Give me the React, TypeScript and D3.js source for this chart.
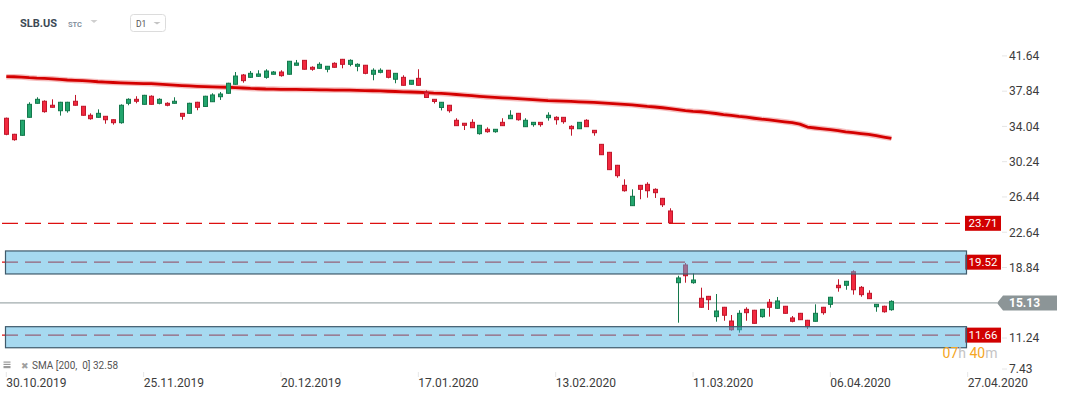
import React from "react";
import * as d3 from "d3";

const W = 1069;
const H = 399;

// OHLC data, one value per trading day starting 30.10.2019
const opens = [35.03,33.30,33.19,35.13,36.64,36.86,36.43,35.84,35.84,36.86,36.32,35.35,35.13,35.24,34.87,34.55,36.64,37.07,36.53,37.40,36.64,36.64,36.64,35.56,35.56,36.75,36.30,36.81,37.35,37.72,38.69,39.69,39.44,39.55,39.44,39.77,40.01,39.77,40.74,41.27,40.52,40.41,40.31,40.95,41.38,40.84,40.63,40.74,39.77,39.98,40.20,39.23,39.44,38.69,39.33,37.83,37.07,36.19,36.43,34.81,34.49,34.59,33.37,33.84,33.58,34.59,34.98,35.56,34.12,34.34,34.59,35.09,35.13,35.13,34.16,33.90,34.81,33.73,32.22,31.36,29.96,27.80,25.61,27.80,27.91,27.37,26.40,25.04,17.31,19.22,17.31,15.63,15.84,13.65,14.66,13.18,12.24,14.44,14.34,13.65,15.20,14.55,14.77,13.51,14.01,13.26,13.15,14.66,14.98,17.03,17.03,18.49,16.81,16.17,14.72,14.77,14.40];
const highs = [35.10,33.35,34.85,36.75,37.29,36.96,37.07,36.80,36.80,37.54,36.35,35.56,35.99,35.27,34.90,36.53,37.18,37.40,37.55,37.50,37.18,36.75,37.29,35.60,36.70,36.80,37.45,37.72,37.86,38.85,40.01,39.80,40.12,40.20,40.31,40.12,40.20,41.20,41.31,41.30,40.63,41.06,40.66,41.06,41.42,41.38,40.95,40.77,40.41,40.41,40.23,39.90,39.66,39.15,40.31,38.04,37.10,36.78,36.46,35.03,34.52,34.92,34.30,34.05,33.87,35.03,35.89,35.60,35.03,34.62,34.62,35.67,35.24,35.16,34.27,34.62,34.92,33.76,32.25,31.40,30.00,28.45,27.37,27.84,28.13,27.48,26.44,25.33,18.06,19.43,18.32,16.77,15.88,16.09,14.70,13.83,14.34,14.66,14.38,14.48,15.55,15.77,14.80,13.72,14.05,13.30,14.98,14.70,15.78,17.68,17.50,18.65,16.95,16.49,15.00,14.83,15.41];
const lows = [33.20,32.61,33.15,35.10,36.60,35.63,36.18,35.31,35.63,36.40,35.30,34.87,35.10,34.44,34.34,34.44,36.43,36.64,36.50,36.50,36.53,36.32,36.60,34.87,35.50,35.89,36.25,36.78,37.00,37.68,38.65,38.86,39.40,39.50,39.29,39.74,39.51,39.74,40.70,40.28,40.15,40.38,39.98,40.48,40.41,40.63,40.09,39.77,39.12,39.87,39.33,38.80,38.55,38.66,38.55,37.24,36.62,35.87,35.63,34.20,33.76,33.98,33.26,33.47,33.47,34.20,34.95,34.77,34.09,34.12,34.12,34.77,34.34,34.44,33.15,33.87,34.09,33.15,31.07,29.45,28.62,27.12,25.58,26.30,26.47,26.44,25.47,23.72,13.00,17.31,17.20,14.62,14.37,13.11,13.21,12.14,11.92,13.21,12.90,13.54,13.65,14.50,13.98,13.04,13.29,12.32,13.12,13.86,14.62,16.34,16.55,16.02,15.80,15.56,14.18,14.08,14.29];
const closes = [33.30,32.72,34.81,36.53,37.07,35.74,36.21,36.75,36.75,36.43,35.35,34.98,35.56,34.87,34.55,36.43,37.07,36.86,37.50,36.53,37.07,36.43,36.86,35.24,36.64,36.21,37.40,37.54,37.64,38.80,39.58,39.08,39.87,39.80,40.12,40.01,39.62,41.17,40.98,40.31,40.31,40.84,40.63,40.52,40.84,41.27,40.84,39.87,40.20,40.20,39.44,39.87,38.58,39.12,38.58,37.27,36.84,36.75,35.84,34.23,34.27,34.01,34.27,33.58,33.84,34.23,35.35,34.87,34.81,34.59,34.34,35.35,34.87,34.66,33.90,34.59,34.12,33.47,31.10,29.49,28.84,27.22,26.62,27.37,27.22,27.01,25.71,23.77,17.82,18.06,17.60,14.66,15.48,14.26,13.80,12.24,14.01,14.08,12.93,14.44,14.66,15.34,14.01,13.15,13.32,12.57,14.01,14.08,15.74,16.77,17.46,16.55,16.02,15.59,14.98,14.18,15.30];

// SMA(200) values read per candle
const sma200 = [39.51,39.50,39.47,39.40,39.35,39.32,39.28,39.21,39.15,39.11,39.08,39.02,38.96,38.92,38.88,38.85,38.82,38.79,38.77,38.75,38.70,38.65,38.60,38.55,38.51,38.47,38.44,38.41,38.39,38.37,38.34,38.29,38.24,38.21,38.18,38.17,38.15,38.14,38.13,38.12,38.11,38.09,38.08,38.07,38.06,38.05,38.03,38.01,37.99,37.97,37.94,37.91,37.88,37.86,37.83,37.80,37.74,37.70,37.65,37.59,37.53,37.46,37.39,37.33,37.28,37.23,37.19,37.14,37.09,37.04,36.98,36.93,36.90,36.87,36.84,36.80,36.77,36.73,36.68,36.63,36.57,36.52,36.47,36.38,36.30,36.24,36.16,36.06,35.95,35.85,35.78,35.73,35.64,35.54,35.43,35.34,35.23,35.14,35.03,34.93,34.85,34.75,34.65,34.55,34.40,34.08,33.98,33.89,33.80,33.70,33.57,33.48,33.38,33.28,33.15,33.00,32.86];

const dateTickIdx = [0, 18, 36, 54, 72, 90, 108, 126];
const dateTickLabels = ["30.10.2019","25.11.2019","20.12.2019","17.01.2020","13.02.2020","11.03.2020","06.04.2020","27.04.2020"];
const priceTicks = [41.64, 37.84, 34.04, 30.24, 26.44, 22.64, 18.84, 11.24, 7.43];

const levels = [23.71, 19.52, 11.66];
const zoneTops = [20.73, 12.57];
const zoneBottoms = [18.25, 10.30];
const currentPrice = 15.13;
const smaLabel = "SMA [200,  0] 32.58";

const FONT = "Roboto, 'Open Sans', Arial, sans-serif";

export default function App() {
  const x = d3.scaleLinear().domain([0, 126]).range([6.3, 967.7]);
  const y = d3.scaleLinear().domain([7.43, 41.64]).range([374.38, 56.9]);

  const smaPath = d3
    .line<number>()
    .x((_, i) => x(i))
    .y((d) => y(d))(sma200) as string;

  const greenFill = "#22a56d";
  const greenStroke = "#14784c";
  const redFill = "#f2293f";
  const redStroke = "#c0172b";

  const cy = y(currentPrice);

  return (
    <svg
      width={W}
      height={H}
      style={{ position: "absolute", left: 0, top: 0, background: "#fff" }}
      fontFamily={FONT}
    >
      <rect x={0} y={0} width={W} height={H} fill="#fff" />

      {/* header */}
      <text x={20} y={27.3} fontSize={11} fontWeight={700} fill="#3d4a55">SLB.US</text>
      <text x={68} y={26.7} fontSize={7.5} fontWeight={600} fill="#7d8c9a">STC</text>
      <path d="M90.5,20 L97.5,20 L94,23 Z" fill="#cfcfcf" />
      <rect x={130.5} y={14.5} width={35} height={17} rx={3} fill="#fff" stroke="#dcdcdc" />
      <text x={136} y={26.7} fontSize={8.5} fill="#555">D1</text>
      <path d="M153.5,22 L160.5,22 L157,24.6 Z" fill="#c4c4c4" />

      {/* SMA line */}
      <path d={smaPath} fill="none" stroke="rgba(225,40,40,0.3)" strokeWidth={5.5} strokeLinejoin="round" />
      <path d={smaPath} fill="none" stroke="#d40000" strokeWidth={2.8} strokeLinejoin="round" />

      {/* current price line */}
      <line x1={0} x2={997} y1={cy} y2={cy} stroke="#8a9699" strokeWidth={1} />

      {/* candles */}
      {opens.map((o, i) => {
        const c = closes[i];
        const up = c >= o;
        const cx = Math.round(x(i)) + 0.5;
        const top = y(Math.max(o, c));
        const bot = y(Math.min(o, c));
        const h = Math.max(1, bot - top);
        return (
          <g key={i}>
            <line x1={cx} x2={cx} y1={y(highs[i])} y2={y(lows[i])} stroke={up ? greenStroke : redStroke} strokeWidth={1} />
            <rect x={cx - 2} y={top} width={4} height={h} fill={up ? greenFill : redFill} stroke={up ? greenStroke : redStroke} strokeWidth={1} />
          </g>
        );
      })}

      {/* dashed levels (under zones) */}
      {levels.map((lv, i) => (
        <line
          key={"lv" + i}
          x1={2}
          x2={960}
          y1={y(lv)}
          y2={y(lv)}
          stroke="#dd1010"
          strokeWidth={1.2}
          strokeDasharray="16,7"
        />
      ))}

      {/* level labels (red boxes) */}
      {levels.map((lv, i) => (
        <g key={"lb" + i}>
          <rect x={965} y={y(lv) - 7.5} width={36} height={15} fill="#d10000" />
          <text x={983} y={y(lv) + 4} fontSize={11.5} fill="#fff" textAnchor="middle">{lv.toFixed(2)}</text>
        </g>
      ))}

      {/* zones */}
      {zoneTops.map((t, i) => (
        <rect
          key={"z" + i}
          x={5.5}
          y={y(t)}
          width={961}
          height={y(zoneBottoms[i]) - y(t)}
          fill="rgba(77,179,225,0.5)"
          stroke="#3f5a6b"
          strokeWidth={1.2}
        />
      ))}

      {/* right axis */}
      {priceTicks.map((p, i) => {
        const ty = Math.min(y(p) - 1, 369);
        return (
          <g key={"pt" + i}>
            <line x1={1002} x2={1007} y1={ty} y2={ty} stroke="#e6e6e6" />
            <text x={1009} y={ty + 4.3} fontSize={12} fill="#3c3c3c">{p.toFixed(2)}</text>
          </g>
        );
      })}

      {/* current price tag */}
      <path
        d={`M997,${cy} L1003,${cy - 7.5} L1057,${cy - 7.5} L1057,${cy + 7.5} L1003,${cy + 7.5} Z`}
        fill="#8c9597"
      />
      <text x={1009} y={cy + 4.3} fontSize={12} fontWeight={700} fill="#fff">{currentPrice.toFixed(2)}</text>

      {/* countdown */}
      <text x={942.5} y={358.3} fontSize={14} fill="#f5a623">
        07<tspan fill="#c4c4c4">h</tspan> 40<tspan fill="#c4c4c4">m</tspan>
      </text>

      {/* date axis */}
      {dateTickIdx.map((d, i) => {
        const tx = x(d);
        return (
          <g key={"dt" + i}>
            <line x1={tx} x2={tx} y1={372} y2={377} stroke="#e6e6e6" />
            <text x={tx} y={386.5} fontSize={12} fill="#3c3c3c">{dateTickLabels[i]}</text>
          </g>
        );
      })}

      {/* legend */}
      <rect x={3.5} y={361.5} width={7} height={1.2} fill="#9a9a9a" />
      <rect x={3.5} y={363.8} width={7} height={1.2} fill="#9a9a9a" />
      <rect x={3.5} y={366} width={7} height={2.2} fill="#9a9a9a" />
      <text x={20.5} y={368.5} fontSize={8.5} fill="#a0a0a0">✖</text>
      <text x={32} y={368.7} fontSize={10} fill="#555" style={{ whiteSpace: "pre" }}>{smaLabel}</text>
    </svg>
  );
}
